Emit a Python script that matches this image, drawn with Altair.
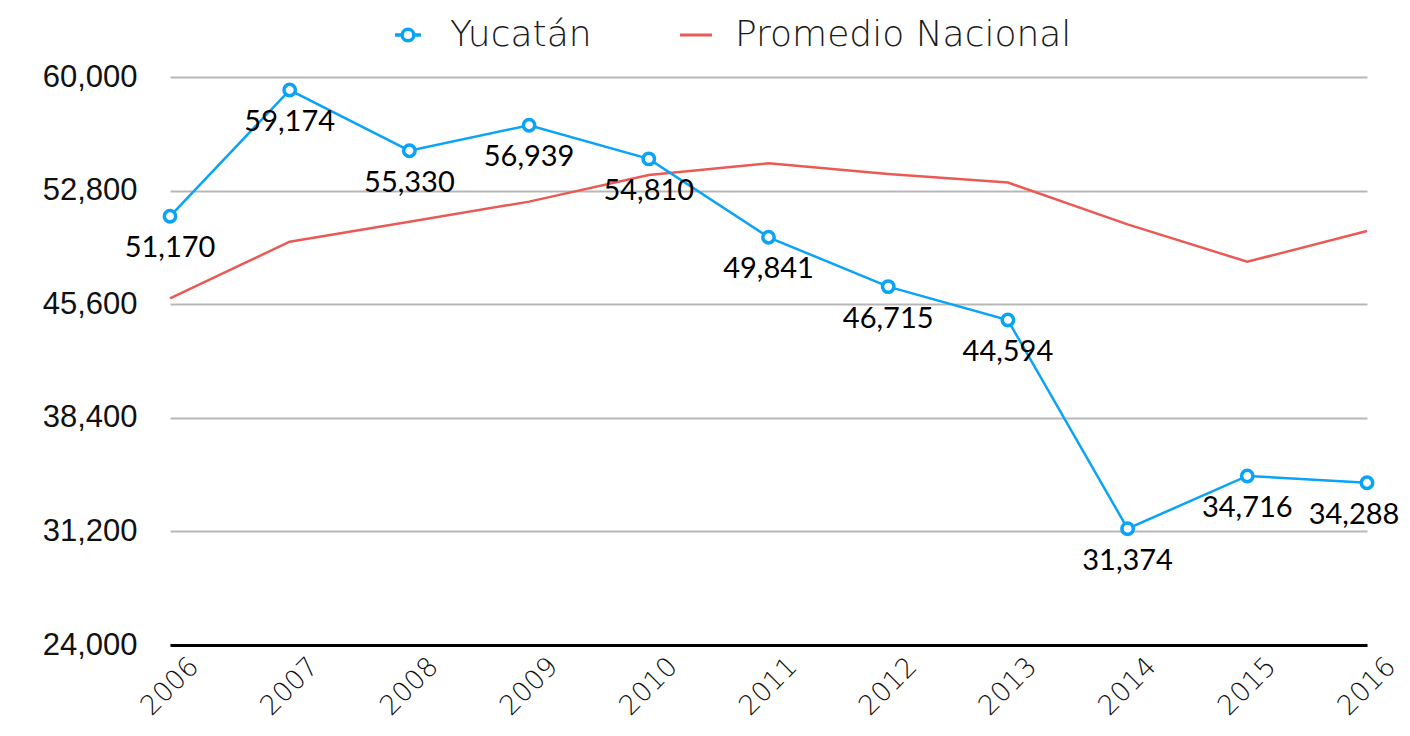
import altair as alt
import pandas as pd

years = ["2006", "2007", "2008", "2009", "2010", "2011", "2012", "2013", "2014", "2015", "2016"]
yucatan = [51170, 59174, 55330, 56939, 54810, 49841, 46715, 44594, 31374, 34716, 34288]
nacional = [45970, 49560, 50830, 52100, 53790, 54530, 53850, 53310, 50660, 48290, 50240]
y_ticks = [24000, 31200, 38400, 45600, 52800, 60000]

BLUE = "#0aa3f5"
RED = "#ea5a55"

df_y = pd.DataFrame({"year": years, "value": yucatan, "serie": ["Yucatán"] * len(years)})
df_n = pd.DataFrame({"year": years, "value": nacional, "serie": ["Promedio Nacional"] * len(years)})

x_enc = alt.X(
    "year:O",
    scale=alt.Scale(type="point", padding=0),
    axis=alt.Axis(
        title=None,
        labelAngle=-45,
        labelAlign="right",
        labelBaseline="middle",
        labelPadding=17,
        labelOffset=24,
        labelFont="DejaVu Sans",
        labelFontWeight=200,
        labelFontSize=27,
        labelColor="#111111",
        ticks=False,
        grid=False,
        domainColor="#000000",
        domainWidth=3,
    ),
)
y_enc = alt.Y(
    "value:Q",
    scale=alt.Scale(domain=[24000, 60000], nice=False, zero=False),
    axis=alt.Axis(
        title=None,
        values=y_ticks,
        format=",d",
        labelFont="Liberation Sans",
        labelFontSize=31,
        labelColor="#111111",
        labelPadding=33,
        ticks=False,
        domain=False,
        grid=True,
        gridColor="#b7b7b7",
        gridWidth=2,
    ),
)

legend_common = dict(
    title=None,
    orient="none",
    legendY=-60,
    direction="horizontal",
    padding=0,
    labelFont="DejaVu Sans",
    labelFontWeight=200,
    labelFontSize=36,
    labelColor="#1a1a1a",
    labelLimit=0,
)

red_line = alt.Chart(df_n).mark_line(strokeWidth=2.5).encode(
    x=x_enc,
    y=y_enc,
    stroke=alt.Stroke(
        "serie:N",
        scale=alt.Scale(domain=["Promedio Nacional"], range=[RED]),
        legend=alt.Legend(
            legendX=508,
            symbolType="stroke",
            symbolSize=1024,
            symbolStrokeWidth=3,
            symbolStrokeColor=RED,
            labelOffset=21,
            **legend_common,
        ),
    ),
)

blue_line = alt.Chart(df_y).mark_line(strokeWidth=2.5, color=BLUE).encode(x=x_enc, y=y_enc)

blue_pts = alt.Chart(df_y).mark_point(
    filled=False, fill="white", fillOpacity=1, opacity=1, size=130, strokeWidth=3.5
).encode(
    x=x_enc,
    y=y_enc,
    color=alt.Color(
        "serie:N",
        scale=alt.Scale(domain=["Yucatán"], range=[BLUE]),
        legend=alt.Legend(
            legendX=220,
            symbolType="M-1,0L-0.45,0M0.45,0L1,0M-0.45,0A0.45,0.45 0 1,0 0.45,0A0.45,0.45 0 1,0 -0.45,0Z",
            symbolSize=676,
            symbolStrokeWidth=3.5,
            symbolFillColor="white",
            symbolStrokeColor=BLUE,
            labelOffset=24,
            **legend_common,
        ),
    ),
)

text_style = dict(dy=32, font="Lato", fontSize=29, color="#000000", baseline="middle", align="center")
text_enc = dict(x=x_enc, y=y_enc, text=alt.Text("value:Q", format=","))

labels = (
    alt.Chart(df_y)
    .mark_text(**text_style)
    .encode(**text_enc)
    .transform_filter("datum.year != '2016'")
)
labels_last = (
    alt.Chart(df_y)
    .mark_text(dx=-13, **text_style)
    .encode(**text_enc)
    .transform_filter("datum.year == '2016'")
)

chart = (
    alt.layer(red_line, blue_line, blue_pts, labels, labels_last)
    .resolve_scale(color="independent", stroke="independent")
    .properties(
        width=1197,
        height=568,
        autosize=alt.AutoSizeParams(type="none"),
        padding={"left": 162, "top": 69, "right": 35, "bottom": 83},
        background="white",
    )
    .configure_view(stroke=None)
)

chart.save("out.html", embed_options={"renderer": "svg", "actions": False})
